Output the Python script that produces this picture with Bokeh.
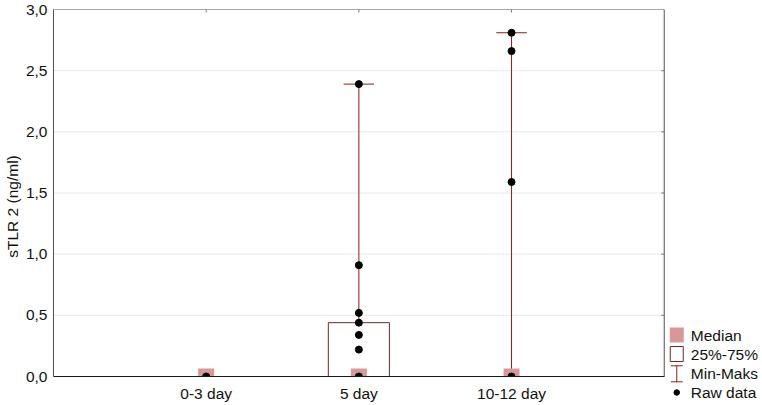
from bokeh.plotting import figure
from bokeh.models import Range1d, FixedTicker
from bokeh.core.properties import value
from bokeh.embed import file_html
from bokeh.resources import INLINE

# ---------------- data ----------------
categories = ["0-3 day", "5 day", "10-12 day"]
medians = [0.0, 0.0, 0.0]
q1 = [0.0, 0.0, 0.0]
q3 = [0.0, 0.44, 0.0]
mins = [0.0, 0.0, 0.0]
maxs = [0.0, 2.39, 2.81]
raw_0_3 = [0.0]
raw_5 = [0.0, 0.22, 0.34, 0.44, 0.52, 0.91, 2.39]
raw_10_12 = [0.0, 1.59, 2.66, 2.81]
y_ticks = [0.0, 0.5, 1.0, 1.5, 2.0, 2.5, 3.0]
y_tick_labels = ["0,0", "0,5", "1,0", "1,5", "2,0", "2,5", "3,0"]
y_axis_title = "sTLR 2 (ng/ml)"
legend_labels = ["Median", "25%-75%", "Min-Maks", "Raw data"]

# ---------------- style / layout ----------------
FONT = "Liberation Sans"
FS = "15.5px"
PINK = "#D99898"
WHISK = "#8E1C1C"
BOXC = "#6A2A2A"
TXT = "#111111"
BORDER = "#505050"

W, H = 760, 403
BOX_W_PX, BOX_H_PX = 609, 367      # size of the plotting box
RIGHT_PX, BELOW_PX = 96, 27        # legend strip at right, label strip below

pos = [i + 1 for i in range(len(categories))]
x_box = len(categories) + 1
y_box = y_ticks[-1]
def dx(px):
    return px * x_box / BOX_W_PX
def dy(px):
    return px * y_box / BOX_H_PX

raw_groups = [raw_0_3, raw_5, raw_10_12]
raw_x, raw_y = [], []
for x, vals in zip(pos, raw_groups):
    for v in vals:
        raw_x.append(x)
        raw_y.append(v)

p = figure(width=W, height=H,
           x_range=Range1d(0, x_box + dx(RIGHT_PX)),
           y_range=Range1d(-dy(BELOW_PX), y_box),
           output_backend="svg", toolbar_location=None,
           min_border_left=0, min_border_right=0, min_border_top=9, min_border_bottom=0)
p.background_fill_color = "white"
p.border_fill_color = "white"
p.outline_line_color = None
p.xgrid.visible = False
p.ygrid.visible = False

# x axis drawn at y = 0
xa = p.xaxis[0]
xa.fixed_location = 0
xa.bounds = (0, x_box)
xa.ticker = FixedTicker(ticks=pos)
xa.major_label_overrides = {x: c for x, c in zip(pos, categories)}
xa.major_tick_out = 0
xa.major_tick_in = 0
xa.minor_tick_line_color = None
xa.axis_line_color = "#1a1a1a"
xa.major_label_text_font = FONT
xa.major_label_text_font_size = FS
xa.major_label_text_color = TXT
xa.major_label_standoff = 8

# y axis (left)
ya = p.yaxis[0]
ya.bounds = (0, y_box)
ya.ticker = FixedTicker(ticks=y_ticks)
ya.major_label_overrides = {t: l for t, l in zip(y_ticks, y_tick_labels)}
ya.major_tick_out = 0
ya.major_tick_in = 0
ya.minor_tick_line_color = None
ya.axis_line_color = BORDER
ya.major_label_text_font = FONT
ya.major_label_text_font_size = FS
ya.major_label_text_color = TXT
ya.major_label_standoff = 6
ya.axis_label = y_axis_title
ya.axis_label_text_font = FONT
ya.axis_label_text_font_size = FS
ya.axis_label_text_font_style = "normal"
ya.axis_label_text_color = TXT
ya.axis_label_standoff = 2

# horizontal grid lines inside the box
inner = y_ticks[1:-1]
p.segment(x0=[0] * len(inner), y0=inner, x1=[x_box] * len(inner), y1=inner,
          line_color="#e8e8e8", line_width=1)

# box 25%-75%
p.vbar(x=pos, width=0.4, bottom=q1, top=q3, fill_color=None, line_color=BOXC, line_width=1)
# whiskers
p.segment(x0=pos, y0=q3, x1=pos, y1=maxs, line_color=WHISK, line_width=1)
p.segment(x0=pos, y0=mins, x1=pos, y1=q1, line_color=WHISK, line_width=1)
cap = 0.1
p.segment(x0=[x - cap for x in pos], y0=maxs, x1=[x + cap for x in pos], y1=maxs,
          line_color=WHISK, line_width=1)
p.segment(x0=[x - cap for x in pos], y0=mins, x1=[x + cap for x in pos], y1=mins,
          line_color=WHISK, line_width=1)
# median (16 px square)
p.rect(x=pos, y=medians, width=16, height=16, width_units="screen", height_units="screen",
       fill_color=PINK, line_color=None)
# raw data
p.scatter(x=raw_x, y=raw_y, marker="circle", size=7, fill_color="black", line_color="black")

# everything below the box is cut away (as at the frame edge)
p.quad(left=[-dx(5)], right=[x_box], top=[0], bottom=[-dy(BELOW_PX)],
       fill_color="white", line_color=None)
# box border with small inward ticks on the right and top sides
p.quad(left=[0], right=[x_box], top=[y_box], bottom=[0], fill_color=None,
       line_color=BORDER, line_width=1)
p.segment(x0=[x_box - dx(3)] * len(inner), y0=inner, x1=[x_box] * len(inner), y1=inner,
          line_color="#777777", line_width=1)
p.segment(x0=pos, y0=[y_box - dy(3)] * len(pos), x1=pos, y1=[y_box] * len(pos),
          line_color="#777777", line_width=1)

# ---------------- legend (in the strip to the right of the box) ----------------
row_px = [41.5, 22.5, 2.7, -16]        # row centres, px above the zero line
ry = [dy(r) for r in row_px]
ix = x_box + dx(12.5)
tx = x_box + dx(26.5)
p.rect(x=[ix], y=[ry[0]], width=14, height=15, width_units="screen", height_units="screen",
       fill_color=PINK, line_color=None)
p.rect(x=[ix], y=[ry[1]], width=13, height=15, width_units="screen", height_units="screen",
       fill_color=None, line_color=BOXC, line_width=1)
p.segment(x0=[ix, ix - dx(6), ix - dx(6)],
          y0=[ry[2] - dy(8), ry[2] + dy(8), ry[2] - dy(8)],
          x1=[ix, ix + dx(6), ix + dx(6)],
          y1=[ry[2] + dy(8), ry[2] + dy(8), ry[2] - dy(8)],
          line_color=WHISK, line_width=1)
p.scatter(x=[ix], y=[ry[3]], marker="circle", size=5.5, fill_color="black", line_color="black")
p.text(x=[tx] * len(legend_labels), y=ry, text=legend_labels,
       text_font=value(FONT), text_font_size=FS, text_color=TXT,
       text_baseline="middle", text_align="left")

open("out.html", "w").write(file_html(p, INLINE))
